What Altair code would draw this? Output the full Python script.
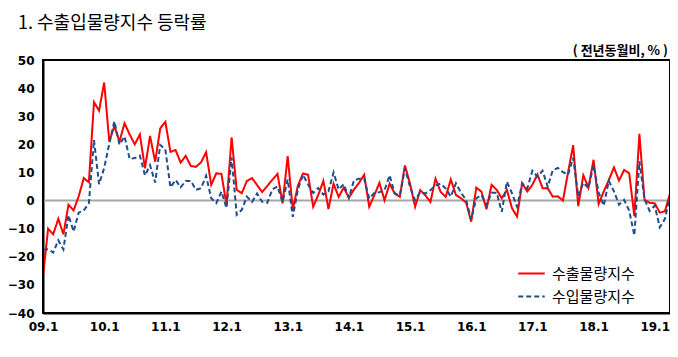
import altair as alt
import pandas as pd

title_text = "1. 수출입물량지수 등락률"
unit_text = "( 전년동월비, % )"
series_names = ["수출물량지수", "수입물량지수"]
series_colors = ["#FF0000", "#1F4E8C"]
x_labels = ["09.1", "10.1", "11.1", "12.1", "13.1", "14.1", "15.1", "16.1", "17.1", "18.1", "19.1"]
y_ticks = [-40, -30, -20, -10, 0, 10, 20, 30, 40, 50]

# monthly values, 2009.1 - 2019.4
export_vals = [
    -27, -10, -12, -6.5, -12, -1.5, -3.5, 1.5, 8, 6.5, 35, 32,
    42, 21, 26.5, 21, 27.5, 23.5, 20, 23.5, 11.5, 23, 13.8, 25.7,
    28, 17.3, 18, 13.5, 15.9, 12.3, 12, 13.6, 17.2, 5.6, 9.7, 9.5,
    -1.5, 22.5, 3.8, 2.6, 7, 8, 5.5, 3, 5.2, 7.4, 9.5, -1,
    15.8, -3.2, 5.3, 9.6, 9.2, -2.2, 2, 7, -3, 6, 1.3, 4.6,
    1, 3.9, 6.3, 9.2, -2.2, 1.9, 6.3, 0.1, 6, 2.5, 1.3, 12.5,
    6, -2.2, 3.7, 1.9, -0.5, 7.8, 3.1, 1.3, 7.5, 2, 0.8, -0.7,
    -7.5, 4.6, 3.2, -3.1, 5.6, 3.8, 0.8, 3.8, -2.7, -5.7, 6.2, 3.2,
    5.6, 9.3, 4.4, 4.4, 1.4, 1.5, 0, 10, 19.7, -2, 9, 4.6,
    14.5, -1.2, 3.2, 7.3, 11.8, 7.1, 10.9, 9.7, -5.5, 23.7, 0.3, -0.8,
    -1, -4.3, -3.8, 2.5,
]
import_vals = [
    -17.4, -17.3, -18.5, -14.1, -17.4, -5.2, -11, -4.3, -3.5, -1, 21.5, 5.8,
    11.6, 20.2, 28.2, 19.9, 22.8, 14.8, 15.1, 16, 8.9, 12.6, 6.4, 19.8,
    18.2, 4.7, 7.3, 4.7, 7, 7, 3.8, 4.4, 8.8, 0.8, -0.9, 3.2,
    -2.7, 15.4, -5.1, -3.3, 1.4, -0.5, 2.5, -0.5, -0.8, 4, 5, -0.5,
    7.5, -5.8, 3.9, 9.2, 5.7, 2.7, 4.5, 2.1, 3.3, 10, 3.9, 5.8,
    1, 7.2, 7.8, 7.8, 0.7, 2.7, 3, 3.7, 9, 2.5, 1.9, 11.4,
    4.9, 0.1, 3, 2.5, 3.7, 5.4, 6, 4.3, 1.4, 6.1, 2.8, 0.2,
    -6.7, 0.8, 2, -1.6, 2.8, 2.8, -4, 6.7, 2.6, -2.2, 6.1, 4.3,
    10.6, 8.5, 10.6, 4.9, 10.8, 11.6, 10.1, 9.2, 15.2, 1.6, 6.3, 4.4,
    12.6, 2.8, -1.8, 7, 3.3, -1.5, 0.2, -3.6, -12.4, 14, 0.5, -3.7,
    -1.8, -9.5, -6.5, 1.6,
]

rows = []
for name, vals in zip(series_names, [export_vals, import_vals]):
    for i, v in enumerate(vals):
        rows.append({"i": i, "s": name, "v": v})
df = pd.DataFrame(rows)
n_last = len(export_vals) - 1

label_expr = "[" + ",".join("'%s'" % l for l in x_labels) + "][round(datum.value/12)]"
num_font = "DejaVu Sans"
kr_font = "Noto Sans CJK KR"

W, H = 627, 253

x_axis = alt.Axis(values=list(range(0, 121, 12)), labelExpr=label_expr, title=None,
                  grid=False, ticks=False, labelFont=num_font, labelFontWeight="bold",
                  labelFontSize=12, labelColor="black", domainColor="black",
                  domainWidth=2, labelPadding=8, labelFlush=False, labelOverlap=False)
y_axis = alt.Axis(values=y_ticks, title=None, grid=False, ticks=False,
                  labelFont=num_font, labelFontWeight="bold", labelFontSize=12,
                  labelColor="black", domainColor="black", domainWidth=2,
                  labelPadding=9, labelOverlap=False, labelFlush=False)
y_scale = alt.Scale(domain=[-40, 50], nice=False)

legend_cfg = dict(title=None, orient="none", legendX=474, legendY=199,
                  symbolType="stroke", symbolSize=700, symbolStrokeWidth=2,
                  labelFont=kr_font, labelFontSize=15, labelColor="black",
                  rowPadding=-6, labelOffset=6)

zero = alt.Chart(pd.DataFrame({"y": [0]})).mark_rule(color="#A6A6A6", strokeWidth=2).encode(
    y=alt.Y("y:Q", scale=y_scale, axis=y_axis)
)

lines = alt.Chart(df).mark_line(strokeWidth=2, clip=True).encode(
    x=alt.X("i:Q", scale=alt.Scale(domain=[0, n_last], nice=False, zero=False), axis=x_axis),
    y=alt.Y("v:Q", scale=y_scale, axis=y_axis),
    color=alt.Color("s:N", scale=alt.Scale(domain=series_names, range=series_colors),
                    legend=alt.Legend(**legend_cfg)),
    strokeDash=alt.StrokeDash("s:N", scale=alt.Scale(domain=series_names, range=[[1, 0], [5, 3]]),
                              legend=alt.Legend(**legend_cfg)),
    order=alt.Order("i:Q"),
)

frame = alt.Chart(pd.DataFrame({"f": [1]})).mark_rect(
    fill="white", fillOpacity=0, stroke="black", strokeWidth=2
).encode(x=alt.value(0), x2=alt.value(W), y=alt.value(0), y2=alt.value(H))

title_mark = alt.Chart(pd.DataFrame({"t": [title_text]})).mark_text(
    align="left", baseline="alphabetic", font=kr_font, fontSize=18, color="black"
).encode(text="t:N", x=alt.value(-25), y=alt.value(-31))

unit_mark = alt.Chart(pd.DataFrame({"t": [unit_text]})).mark_text(
    align="right", baseline="alphabetic", font=kr_font, fontSize=13, fontWeight="bold", color="black"
).encode(text="t:N", x=alt.value(625), y=alt.value(-5))

chart = alt.layer(zero, lines, frame, title_mark, unit_mark).properties(
    width=W, height=H,
    autosize="none",
    padding={"left": 35, "top": 52, "right": 0, "bottom": 40},
).configure(background="white").configure_view(stroke="black", strokeWidth=2)

chart.save("out.html", embed_options={"renderer": "svg", "actions": False})
